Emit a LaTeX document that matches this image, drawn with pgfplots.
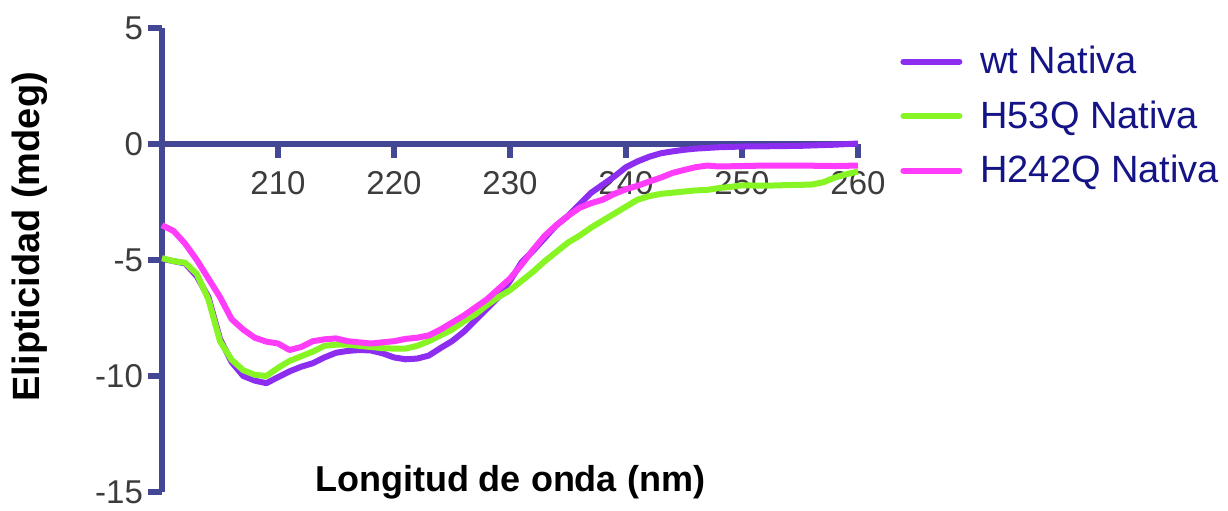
\documentclass[border=0pt]{standalone}
\usepackage{fontspec}
\setmainfont{Liberation Sans}
\usepackage{pgfplots}
\pgfplotsset{compat=1.18}
\definecolor{axiscol}{RGB}{68,72,148}
\definecolor{wtcol}{RGB}{140,45,240}
\definecolor{h53col}{RGB}{135,245,35}
\definecolor{h242col}{RGB}{255,60,250}
\definecolor{legtext}{RGB}{20,20,135}
\definecolor{tickgray}{RGB}{60,60,60}
\begin{document}
\begin{tikzpicture}
\begin{axis}[
  scale only axis,
  width=348pt, height=232pt,
  xmin=200, xmax=260, ymin=-15, ymax=5,
  axis x line=middle, axis y line=left,
  axis line style={-, color=axiscol, line width=2.8pt},
  every inner x axis line/.append style={line width=2.8pt},
  every outer y axis line/.append style={line width=2.8pt},
  xtick={210,220,230,240,250,260},
  ytick={-15,-10,-5,0,5},
  tick style={line width=2.8pt, color=axiscol},
  major tick style={line width=2.8pt, color=axiscol},
  major tick length=7pt,
  xtick align=center,
  x tick style={yshift=-3.5pt},
  ytick align=outside,
  ticklabel style={font=\fontsize{16.5}{18}\selectfont, text=tickgray},
  /pgf/number format/assume math mode=true,
  xticklabel style={yshift=-6.5pt},
  yticklabel style={xshift=1pt},
  clip=false,
  xlabel={Longitud de onda (nm)},
  ylabel={Elipticidad (mdeg)},
  xlabel style={font=\fontsize{18}{20}\selectfont\bfseries, text=black, at={(axis description cs:0.5,0.02)}, anchor=center},
  ylabel style={font=\fontsize{19}{21}\selectfont\bfseries, text=black, at={(axis description cs:-0.19,0.55)}, anchor=center, rotate=0},
  legend style={at={([xshift=21pt,yshift=-7pt]rel axis cs:1,1)}, anchor=north west, draw=none, fill=none,
    font=\fontsize{19}{22}\selectfont, text=legtext, row sep=8pt, inner sep=0pt},
  legend cell align=left,
  legend image code/.code={\draw[#1, line cap=round] (0pt,0pt) -- (28pt,0pt); \path (35pt,0pt);},
  every axis plot/.append style={line width=3pt, line join=round},
]
\addplot[wtcol] coordinates {
(200,-4.95) (201,-5.05) (202,-5.15) (203,-5.7) (204,-6.6) (205,-8.4) (206,-9.4) (207,-10.0) (208,-10.2) (209,-10.31)
(210,-10.05) (211,-9.8) (212,-9.6) (213,-9.45) (214,-9.2) (215,-9.0) (216,-8.92) (217,-8.88) (218,-8.9) (219,-9.02)
(220,-9.2) (221,-9.28) (222,-9.25) (223,-9.12) (224,-8.8) (225,-8.5) (226,-8.1) (227,-7.6) (228,-7.1) (229,-6.6)
(230,-5.9) (231,-5.1) (232,-4.6) (233,-4.05) (234,-3.5) (235,-3.1) (236,-2.6) (237,-2.1) (238,-1.75) (239,-1.4)
(240,-1.0) (241,-0.75) (242,-0.55) (243,-0.4) (244,-0.32) (245,-0.25) (246,-0.2) (247,-0.17) (248,-0.14)
(250,-0.11) (252,-0.1) (255,-0.08) (258,-0.03) (260,0.02)
};
\addlegendentry{wt Nativa}
\addplot[h53col] coordinates {
(200,-4.92) (201,-5.05) (202,-5.12) (203,-5.6) (204,-6.7) (205,-8.5) (206,-9.3) (207,-9.75) (208,-9.95) (209,-10.0)
(210,-9.65) (211,-9.35) (212,-9.15) (213,-8.95) (214,-8.7) (215,-8.65) (216,-8.65) (217,-8.7) (218,-8.75) (219,-8.8)
(220,-8.82) (221,-8.82) (222,-8.7) (223,-8.5) (224,-8.25) (225,-8.0) (226,-7.65) (227,-7.35) (228,-6.95) (229,-6.6)
(230,-6.3) (231,-5.9) (232,-5.5) (233,-5.05) (234,-4.65) (235,-4.25) (236,-3.95) (237,-3.6) (238,-3.3) (239,-3.0)
(240,-2.7) (241,-2.4) (242,-2.25) (243,-2.15) (244,-2.1) (245,-2.05) (246,-2.0) (247,-1.98) (248,-1.9) (249,-1.85)
(250,-1.78) (252,-1.8) (254,-1.77) (256,-1.75) (257,-1.65) (258,-1.45) (259,-1.3) (260,-1.19)
};
\addlegendentry{H53Q Nativa}
\addplot[h242col] coordinates {
(200,-3.5) (201,-3.75) (202,-4.3) (203,-5.0) (204,-5.8) (205,-6.6) (206,-7.55) (207,-8.0) (208,-8.35) (209,-8.52)
(210,-8.6) (211,-8.88) (212,-8.75) (213,-8.5) (214,-8.42) (215,-8.38) (216,-8.5) (217,-8.55) (218,-8.6) (219,-8.55)
(220,-8.5) (221,-8.4) (222,-8.35) (223,-8.25) (224,-8.0) (225,-7.7) (226,-7.4) (227,-7.05) (228,-6.7) (229,-6.25)
(230,-5.8) (231,-5.2) (232,-4.55) (233,-3.95) (234,-3.5) (235,-3.1) (236,-2.75) (237,-2.55) (238,-2.4) (239,-2.15)
(240,-1.95) (241,-1.8) (242,-1.62) (243,-1.45) (244,-1.25) (245,-1.12) (246,-1.0) (247,-0.93) (248,-0.97)
(250,-0.95) (252,-0.93) (255,-0.93) (258,-0.95) (260,-0.93)
};
\addlegendentry{H242Q Nativa}
\path ([shift={(-81pt,-6pt)}]rel axis cs:0,0) rectangle ([shift={(185pt,14pt)}]rel axis cs:1,1);
\end{axis}
\end{tikzpicture}
\end{document}
